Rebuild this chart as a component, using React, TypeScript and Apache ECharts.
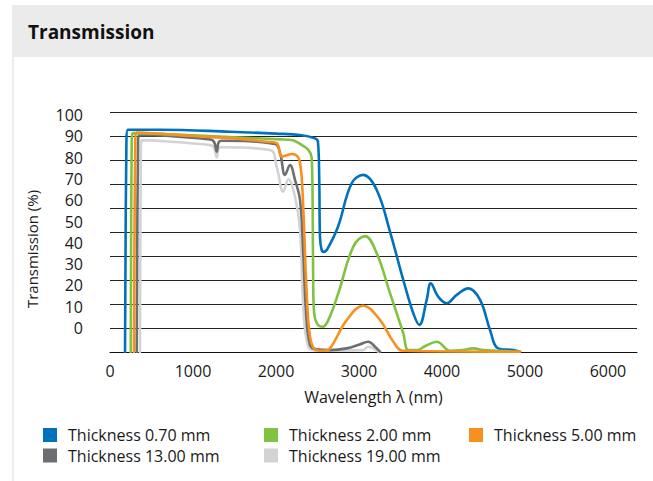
import React, { useEffect, useRef } from "react";
import * as echarts from "echarts";

const FONT = '"Open Sans", "Noto Sans", sans-serif';

const seriesNames = [
  "Thickness 0.70 mm",
  "Thickness 2.00 mm",
  "Thickness 5.00 mm",
  "Thickness 13.00 mm",
  "Thickness 19.00 mm",
];
const seriesColors = ["#0072bc", "#80c241", "#f7901e", "#6d6e71", "#d1d3d4"];

// [wavelength nm, transmission %]
const t070: number[][] = [
  [181, 0], [198, 88], [215, 92.6], [600, 92.6], [1446, 91.8], [2000, 91], [2290, 90.4],
  [2470, 89], [2506, 87.6], [2522, 70], [2530, 48], [2550, 42.5], [2575, 41.7], [2620, 43],
  [2747, 52.2], [2912, 70.3], [3052, 73.8], [3214, 67.5], [3374, 50.1], [3534, 30],
  [3655, 16.1], [3727, 11.3], [3816, 21.7], [3865, 28.6], [3956, 23], [4057, 20.3],
  [4178, 23.8], [4318, 26.5], [4459, 21.7], [4579, 9.2], [4679, 1.5], [4860, 0.8], [4940, 0.1],
];
const t200: number[][] = [
  [250, 0], [262, 88], [278, 91.2], [1000, 90.3], [1500, 89.5], [2049, 88.6], [2190, 88.3],
  [2300, 86.5], [2390, 84.2], [2430, 81], [2442, 60], [2448, 30], [2460, 16], [2500, 11.5],
  [2563, 10.5], [2640, 14], [2751, 24.5], [2932, 43.9], [3073, 48.3], [3214, 41.1],
  [3374, 24.5], [3534, 7.8], [3595, 0.8], [3696, 0.8], [3800, 2.5], [3937, 4.3], [4097, 0.5],
  [4250, 0.8], [4378, 1.5], [4500, 0.8], [4660, 0.5], [4940, 0.1],
];
const t500: number[][] = [
  [289, 0], [305, 88], [322, 91.4], [1000, 90], [1500, 89], [1890, 87.6], [2008, 87],
  [2069, 81.4], [2130, 82], [2190, 82.5], [2270, 81], [2300, 76], [2315, 70], [2338, 52.2],
  [2370, 24.5], [2410, 6.4], [2470, 1.1], [2570, 0.5], [2651, 1.5], [2852, 13.3],
  [3052, 19.3], [3254, 13.3], [3414, 4.3], [3534, 0.5], [4940, 0.1],
];
const t1300: number[][] = [
  [322, 0], [338, 87], [353, 90.4], [1205, 88.6], [1255, 87.5], [1286, 83.5], [1310, 87.5],
  [1346, 88], [1988, 86.7], [2049, 82.9], [2109, 73.8], [2169, 77.9], [2229, 71.7],
  [2290, 63.3], [2329, 41], [2360, 18], [2410, 3], [2490, 1.1], [2651, 0.8], [2852, 1.5],
  [3000, 3], [3112, 4.3], [3200, 2], [3254, 0.1],
];
const t1900: number[][] = [
  [361, 0], [372, 85], [382, 88.3], [1205, 86.25], [1255, 85], [1286, 81.1], [1310, 85],
  [1346, 85.3], [1928, 84.2], [2008, 77.2], [2088, 66.8], [2149, 72], [2229, 64.7],
  [2290, 50.8], [2329, 18.9], [2389, 2.2], [2490, 0.5], [3052, 0.8], [3109, 2.2], [3233, 0.1],
];
const seriesData = [t070, t200, t500, t1300, t1900];

// draw order (last on top)
const drawOrder = [4, 3, 0, 1, 2];

export default function App() {
  const ref = useRef<HTMLDivElement>(null);
  useEffect(() => {
    if (!ref.current) return;
    const chart = echarts.init(ref.current, undefined, { renderer: "svg" });
    const legendBase = {
      orient: "vertical",
      top: 427,
      padding: 0,
      itemWidth: 14,
      itemHeight: 14,
      itemGap: 4.5,
      icon: "rect",
      selectedMode: false,
      textStyle: { fontSize: 16, fontFamily: FONT, color: "#1a1a1a", padding: [0, 0, 0, 6] },
    };
    chart.setOption({
      animation: false,
      backgroundColor: "#ffffff",
      graphic: [
        { type: "rect", shape: { x: 12, y: 5, width: 641, height: 52 }, style: { fill: "#ebebeb" }, silent: true, z: -10 },
        { type: "rect", shape: { x: 12, y: 57, width: 2, height: 424 }, style: { fill: "#ededed" }, silent: true, z: -10 },
        {
          type: "text", x: 28, y: 32,
          style: { text: "Transmission", font: 'bold 19px "Open Sans"', fill: "#111111", verticalAlign: "middle" },
        },
        {
          type: "text", x: 32, y: 249, rotation: Math.PI / 2,
          style: { text: "Transmission (%)", font: '15px "Open Sans"', fill: "#1a1a1a", align: "center", verticalAlign: "middle" },
        },
      ],
      grid: [
        { left: 110, top: 112, width: 527, height: 240 },
        { left: 110, top: 115, width: 527, height: 213 },
      ],
      xAxis: [
        {
          type: "value", gridIndex: 0, min: 0, max: 6350, interval: 1000,
          axisLine: { show: true, lineStyle: { color: "#111111", width: 1 } },
          axisTick: { show: false },
          splitLine: { show: false },
          axisLabel: {
            showMaxLabel: false, fontSize: 16, fontFamily: FONT, color: "#1a1a1a", margin: 11,
            formatter: (v: number) => (v % 1000 === 0 ? String(v) : ""),
          },
          name: "Wavelength λ (nm)", nameLocation: "middle", nameGap: 37,
          nameTextStyle: { fontSize: 16, fontFamily: FONT, color: "#1a1a1a" },
        },
        { type: "value", gridIndex: 1, min: 0, max: 6350, show: false },
      ],
      yAxis: [
        {
          type: "value", gridIndex: 0, min: 0, max: 100, interval: 10,
          axisLabel: { show: false }, axisLine: { show: false }, axisTick: { show: false },
          splitLine: { show: true, lineStyle: { color: "#222222", width: 1 } },
        },
        {
          type: "value", gridIndex: 1, min: 0, max: 100, interval: 10,
          axisLabel: { fontSize: 16, fontFamily: FONT, color: "#1a1a1a", margin: 27 },
          axisLine: { show: false }, axisTick: { show: false }, splitLine: { show: false },
        },
      ],
      legend: [
        { ...legendBase, left: 43, data: [seriesNames[0], seriesNames[3]] },
        { ...legendBase, left: 264, data: [seriesNames[1], seriesNames[4]] },
        { ...legendBase, left: 469, data: [seriesNames[2]] },
      ],
      series: drawOrder.map((i) => ({
        name: seriesNames[i],
        type: "line",
        xAxisIndex: 0,
        yAxisIndex: 0,
        data: seriesData[i],
        showSymbol: false,
        symbol: "none",
        smooth: 0.4,
        color: seriesColors[i],
        lineStyle: { width: 2.6, color: seriesColors[i], cap: "round", join: "round" },
      })),
    });
    return () => chart.dispose();
  }, []);
  return <div ref={ref} style={{ position: "fixed", left: 0, top: 0, width: 653, height: 481 }} />;
}
